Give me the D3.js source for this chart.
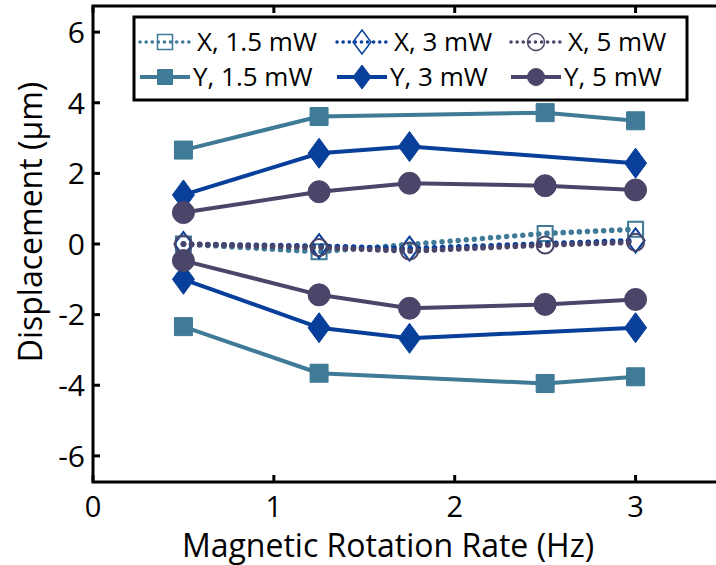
<!DOCTYPE html>
<html lang="en">
<head>
  <meta charset="UTF-8">
  <title>Displacement vs Magnetic Rotation Rate</title>
  <script src="https://d3js.org/d3.v7.min.js"></script>
  <style>
    body {
      margin: 0;
      background: #fff;
      overflow: hidden;
    }
    svg text {
      font-family: "Open Sans", "Noto Sans", sans-serif;
      fill: #000;
    }
  </style>
</head>
<body>
  <svg width="716" height="565"></svg>

  <script>
    // rotation rates (Hz)
    const rates = [0.5, 1.25, 1.75, 2.5, 3];

    // X displacement (dotted, open markers); null = no point
    const x15 = [0.0, -0.22, null, 0.3, 0.42];
    const x3  = [0.0, -0.06, -0.13, null, 0.1];
    const x5  = [0.0, -0.1, -0.2, -0.03, 0.05];

    // Y displacement, upper and lower branch (solid, filled markers)
    const y15Pos = [2.66, 3.61, null, 3.72, 3.49];
    const y15Neg = [-2.34, -3.66, null, -3.95, -3.76];
    const y3Pos  = [1.39, 2.57, 2.76, null, 2.29];
    const y3Neg  = [-1.0, -2.37, -2.67, null, -2.37];
    const y5Pos  = [0.89, 1.48, 1.72, 1.65, 1.53];
    const y5Neg  = [-0.47, -1.44, -1.82, -1.71, -1.57];

    const xTicks = [0, 1, 2, 3];
    const yTicks = [-6, -4, -2, 0, 2, 4, 6];

    const teal = "#3f7a96", blue = "#073f9b", purple = "#4a4569";

    const series = [
      { name: "X, 1.5 mW", vals: [x15], color: teal, shape: "square", dotted: true },
      { name: "X, 3 mW", vals: [x3], color: blue, shape: "diamond", dotted: true },
      { name: "X, 5 mW", vals: [x5], color: purple, shape: "circle", dotted: true },
      { name: "Y, 1.5 mW", vals: [y15Pos, y15Neg], color: teal, shape: "square", dotted: false },
      { name: "Y, 3 mW", vals: [y3Pos, y3Neg], color: blue, shape: "diamond", dotted: false },
      { name: "Y, 5 mW", vals: [y5Pos, y5Neg], color: purple, shape: "circle", dotted: false }
    ];

    const svg = d3.select("svg");
    const mLeft = 93, mRight = 726, mTop = 6, mBottom = 482;

    const x = d3.scaleLinear().domain([0, 3.5]).range([mLeft, mRight]);
    const y = d3.scaleLinear().domain([-6.74, 6.74]).range([mBottom, mTop]);

    // marker path generator, centred on 0,0
    function marker(shape, big) {
      if (shape === "square") {
        const s = big ? 9 : 7.5;
        return `M${-s},${-s}H${s}V${s}H${-s}Z`;
      }
      if (shape === "diamond") {
        const w = big ? 11 : 9, h = big ? 15 : 12;
        return `M0,${-h}L${w},0L0,${h}L${-w},0Z`;
      }
      const r = big ? 11 : 8.5;
      return `M${r},0A${r},${r} 0 1,1 ${-r},0A${r},${r} 0 1,1 ${r},0Z`;
    }

    const line = d3.line()
      .x(d => x(d[0]))
      .y(d => y(d[1]));

    const plot = svg.append("g");

    // dotted X first, then solid Y on top
    series.forEach(s => {
      s.vals.forEach(v => {
        const pts = rates.map((r, i) => [r, v[i]]).filter(d => d[1] !== null);
        plot.append("path")
          .datum(pts)
          .attr("d", line)
          .attr("fill", "none")
          .attr("stroke", s.color)
          .attr("stroke-width", s.dotted ? 5.5 : 4)
          .attr("stroke-linecap", s.dotted ? "round" : "butt")
          .attr("stroke-linejoin", "round")
          .attr("stroke-dasharray", s.dotted ? "0.1 8" : null);

        plot.selectAll(null)
          .data(pts)
          .enter().append("path")
            .attr("transform", d => `translate(${x(d[0])},${y(d[1])})`)
            .attr("d", marker(s.shape, !s.dotted))
            .attr("fill", s.dotted ? "none" : s.color)
            .attr("stroke", s.color)
            .attr("stroke-width", s.dotted ? 2 : 1);
      });
    });

    // axes box
    svg.append("rect")
      .attr("x", mLeft).attr("y", mTop)
      .attr("width", mRight - mLeft).attr("height", mBottom - mTop)
      .attr("fill", "none")
      .attr("stroke", "#000")
      .attr("stroke-width", 3);

    const tickLen = 7;
    yTicks.forEach(t => {
      svg.append("line")
        .attr("x1", mLeft).attr("x2", mLeft + tickLen)
        .attr("y1", y(t)).attr("y2", y(t))
        .attr("stroke", "#000").attr("stroke-width", 3);
      svg.append("text")
        .attr("x", mLeft - 8).attr("y", y(t))
        .attr("dy", "0.36em")
        .attr("text-anchor", "end")
        .attr("font-size", 30)
        .text(t);
    });
    xTicks.forEach(t => {
      [[mBottom, mBottom - tickLen], [mTop, mTop + tickLen]].forEach(([a, b]) => {
        svg.append("line")
          .attr("x1", x(t)).attr("x2", x(t))
          .attr("y1", a).attr("y2", b)
          .attr("stroke", "#000").attr("stroke-width", 3);
      });
      svg.append("text")
        .attr("x", x(t)).attr("y", 517)
        .attr("text-anchor", "middle")
        .attr("font-size", 29)
        .text(t);
    });

    svg.append("text")
      .attr("x", 388).attr("y", 557)
      .attr("text-anchor", "middle")
      .attr("font-size", 32)
      .text("Magnetic Rotation Rate (Hz)");

    svg.append("text")
      .attr("transform", "translate(42,222) rotate(-90)")
      .attr("text-anchor", "middle")
      .attr("font-size", 32)
      .text("Displacement (\u00b5m)");

    // legend
    const lg = svg.append("g");
    lg.append("rect")
      .attr("x", 134).attr("y", 17)
      .attr("width", 553).attr("height", 83)
      .attr("fill", "#fff")
      .attr("stroke", "#000")
      .attr("stroke-width", 3);

    const colX = [140, 337, 511];
    const rowY = [42, 77];
    series.forEach((s, i) => {
      const cx = colX[i % 3], cy = rowY[Math.floor(i / 3)];
      lg.append("line")
        .attr("x1", cx).attr("x2", cx + 50)
        .attr("y1", cy).attr("y2", cy)
        .attr("stroke", s.color)
        .attr("stroke-width", s.dotted ? 3.5 : 4)
        .attr("stroke-linecap", s.dotted ? "round" : "butt")
        .attr("stroke-dasharray", s.dotted ? "0.1 6" : null);
      lg.append("path")
        .attr("transform", `translate(${cx + 25},${cy})`)
        .attr("d", marker(s.shape, false))
        .attr("fill", s.dotted ? "#fff" : s.color)
        .attr("stroke", s.color)
        .attr("stroke-width", s.dotted ? 1.5 : 1)
        .attr("fill-opacity", s.dotted ? 0 : 1);
      lg.append("text")
        .attr("x", cx + (s.dotted ? 57 : 53)).attr("y", cy)
        .attr("dy", "0.36em")
        .attr("font-size", 26)
        .text(s.name);
    });
  </script>
</body>
</html>
